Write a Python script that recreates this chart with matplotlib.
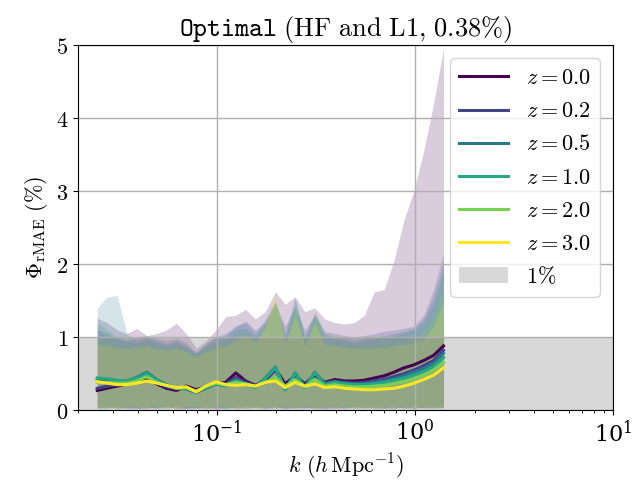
import matplotlib
matplotlib.use("Agg")
import matplotlib.pyplot as plt
import numpy as np
from matplotlib.ticker import FormatStrFormatter

plt.rcParams["mathtext.fontset"] = "cm"
plt.rcParams["font.family"] = "serif"
plt.rcParams["font.serif"] = ["DejaVu Serif"]
plt.rcParams["font.size"] = 16

# wavenumbers (h/Mpc)
k = [0.0250, 0.0280, 0.0315, 0.0353, 0.0396, 0.0444, 0.0498, 0.0559, 0.0627,
     0.0703, 0.0789, 0.0885, 0.0993, 0.111, 0.125, 0.140, 0.157, 0.176,
     0.198, 0.222, 0.249, 0.279, 0.313, 0.351, 0.394, 0.442, 0.496, 0.556,
     0.624, 0.700, 0.785, 0.881, 0.988, 1.108, 1.243, 1.395]

redshifts = [0.0, 0.2, 0.5, 1.0, 2.0, 3.0]

# median relative MAE per redshift (%)
med_z00 = [0.27, 0.30, 0.33, 0.36, 0.40, 0.44, 0.36, 0.30, 0.27, 0.33, 0.28, 0.32,
           0.36, 0.38, 0.51, 0.40, 0.34, 0.40, 0.56, 0.36, 0.47, 0.36, 0.48, 0.38,
           0.42, 0.40, 0.40, 0.41, 0.44, 0.47, 0.52, 0.58, 0.62, 0.68, 0.75, 0.88]
med_z02 = [0.30, 0.33, 0.35, 0.37, 0.40, 0.46, 0.38, 0.32, 0.29, 0.31, 0.26, 0.31,
           0.36, 0.36, 0.45, 0.38, 0.33, 0.42, 0.55, 0.31, 0.48, 0.33, 0.50, 0.37,
           0.40, 0.38, 0.37, 0.38, 0.40, 0.42, 0.46, 0.50, 0.55, 0.61, 0.68, 0.82]
med_z05 = [0.42, 0.42, 0.40, 0.40, 0.45, 0.52, 0.42, 0.35, 0.30, 0.29, 0.24, 0.30,
           0.36, 0.34, 0.42, 0.36, 0.32, 0.44, 0.59, 0.28, 0.51, 0.31, 0.52, 0.36,
           0.39, 0.37, 0.36, 0.36, 0.38, 0.40, 0.43, 0.47, 0.52, 0.57, 0.64, 0.78]
med_z10 = [0.44, 0.43, 0.41, 0.40, 0.44, 0.50, 0.41, 0.34, 0.30, 0.30, 0.25, 0.31,
           0.36, 0.33, 0.40, 0.36, 0.31, 0.43, 0.58, 0.28, 0.50, 0.31, 0.51, 0.35,
           0.38, 0.36, 0.35, 0.35, 0.36, 0.38, 0.41, 0.44, 0.48, 0.53, 0.60, 0.72]
med_z20 = [0.38, 0.38, 0.37, 0.37, 0.40, 0.46, 0.38, 0.34, 0.30, 0.31, 0.26, 0.33,
           0.37, 0.35, 0.38, 0.36, 0.33, 0.38, 0.45, 0.33, 0.42, 0.32, 0.42, 0.33,
           0.35, 0.33, 0.32, 0.32, 0.33, 0.34, 0.36, 0.39, 0.43, 0.48, 0.55, 0.65]
med_z30 = [0.39, 0.37, 0.35, 0.35, 0.37, 0.40, 0.37, 0.34, 0.31, 0.32, 0.25, 0.33,
           0.39, 0.35, 0.34, 0.35, 0.33, 0.38, 0.40, 0.31, 0.38, 0.33, 0.36, 0.31,
           0.32, 0.30, 0.29, 0.28, 0.28, 0.29, 0.30, 0.33, 0.37, 0.42, 0.48, 0.58]

# upper edge of the spread
hi_z00 = [1.26, 1.20, 1.10, 1.05, 1.12, 1.02, 1.05, 1.10, 1.19, 1.05, 0.85, 0.95,
          1.10, 1.28, 1.30, 1.38, 1.25, 1.35, 1.62, 1.45, 1.55, 1.35, 1.40, 1.25,
          1.20, 1.18, 1.20, 1.30, 1.62, 1.65, 2.05, 2.60, 3.00, 3.55, 4.20, 4.95]
hi_z02 = [1.10, 1.05, 0.98, 0.95, 1.00, 1.02, 0.98, 0.95, 0.98, 0.92, 0.78, 0.90,
          1.00, 1.05, 1.15, 1.22, 1.10, 1.20, 1.45, 1.15, 1.40, 1.10, 1.30, 1.08,
          1.05, 1.02, 1.00, 1.02, 1.05, 1.08, 1.10, 1.12, 1.15, 1.30, 1.65, 2.15]
hi_z05 = [1.40, 1.55, 1.57, 1.05, 0.95, 1.00, 0.95, 0.90, 0.95, 0.88, 0.80, 0.92,
          1.00, 1.02, 1.15, 1.20, 1.05, 1.25, 1.50, 1.05, 1.55, 1.00, 1.35, 1.05,
          1.00, 0.98, 0.95, 0.98, 1.00, 1.02, 1.05, 1.08, 1.12, 1.25, 1.55, 2.00]
hi_z10 = [1.20, 1.10, 1.00, 0.95, 0.92, 0.98, 0.92, 0.88, 0.92, 0.85, 0.78, 0.88,
          0.95, 0.98, 1.10, 1.12, 1.00, 1.20, 1.48, 1.00, 1.50, 0.98, 1.30, 1.00,
          0.98, 0.95, 0.92, 0.95, 0.98, 1.00, 1.02, 1.05, 1.10, 1.20, 1.45, 1.90]
hi_z20 = [0.95, 0.92, 0.88, 0.86, 0.88, 0.90, 0.86, 0.84, 0.85, 0.82, 0.75, 0.82,
          0.88, 0.90, 0.98, 1.05, 0.95, 1.10, 1.50, 0.92, 1.42, 0.90, 1.33, 0.92,
          0.90, 0.88, 0.86, 0.88, 0.88, 0.90, 0.92, 0.95, 0.98, 1.05, 1.30, 1.70]
hi_z30 = [0.90, 0.88, 0.85, 0.84, 0.86, 0.88, 0.84, 0.82, 0.84, 0.80, 0.72, 0.80,
          0.85, 0.88, 0.95, 1.02, 0.92, 1.15, 1.60, 0.90, 1.30, 0.88, 1.20, 0.90,
          0.88, 0.86, 0.84, 0.85, 0.85, 0.86, 0.88, 0.90, 0.92, 0.98, 1.15, 1.50]

# lower edge of the spread
lo_z00 = [0.04, 0.03, 0.05, 0.03, 0.02, 0.04, 0.03, 0.05, 0.02, 0.03, 0.04, 0.02,
          0.03, 0.05, 0.03, 0.02, 0.04, 0.03, 0.05, 0.02, 0.03, 0.04, 0.03, 0.02,
          0.04, 0.03, 0.05, 0.03, 0.04, 0.02, 0.03, 0.04, 0.05, 0.03, 0.04, 0.05]
lo_z02 = [0.03, 0.05, 0.02, 0.04, 0.03, 0.02, 0.05, 0.03, 0.04, 0.02, 0.03, 0.05,
          0.02, 0.03, 0.04, 0.06, 0.03, 0.02, 0.04, 0.03, 0.05, 0.02, 0.04, 0.03,
          0.02, 0.05, 0.03, 0.04, 0.02, 0.03, 0.05, 0.03, 0.02, 0.04, 0.03, 0.04]
lo_z05 = [0.06, 0.04, 0.03, 0.02, 0.04, 0.05, 0.02, 0.03, 0.06, 0.04, 0.02, 0.03,
          0.05, 0.02, 0.03, 0.04, 0.06, 0.03, 0.02, 0.05, 0.03, 0.04, 0.02, 0.05,
          0.03, 0.02, 0.04, 0.06, 0.03, 0.04, 0.02, 0.05, 0.03, 0.04, 0.06, 0.03]
lo_z10 = [0.02, 0.03, 0.04, 0.05, 0.03, 0.02, 0.04, 0.06, 0.03, 0.02, 0.05, 0.04,
          0.03, 0.02, 0.05, 0.03, 0.04, 0.06, 0.03, 0.02, 0.04, 0.05, 0.03, 0.02,
          0.06, 0.04, 0.02, 0.03, 0.05, 0.06, 0.04, 0.02, 0.05, 0.03, 0.02, 0.04]
lo_z20 = [0.03, 0.02, 0.05, 0.03, 0.06, 0.04, 0.03, 0.02, 0.05, 0.06, 0.03, 0.04,
          0.06, 0.04, 0.02, 0.05, 0.03, 0.04, 0.06, 0.05, 0.02, 0.03, 0.06, 0.04,
          0.05, 0.03, 0.06, 0.02, 0.04, 0.03, 0.06, 0.04, 0.03, 0.05, 0.04, 0.02]
lo_z30 = [0.05, 0.04, 0.02, 0.06, 0.04, 0.03, 0.06, 0.04, 0.03, 0.05, 0.06, 0.02,
          0.04, 0.06, 0.04, 0.03, 0.02, 0.05, 0.03, 0.06, 0.04, 0.06, 0.02, 0.05,
          0.03, 0.06, 0.02, 0.05, 0.03, 0.05, 0.03, 0.06, 0.04, 0.02, 0.05, 0.03]

medians = [med_z00, med_z02, med_z05, med_z10, med_z20, med_z30]
uppers = [hi_z00, hi_z02, hi_z05, hi_z10, hi_z20, hi_z30]
lowers = [lo_z00, lo_z02, lo_z05, lo_z10, lo_z20, lo_z30]

colors = plt.cm.viridis(np.linspace(0, 1, len(redshifts)))

fig = plt.figure(figsize=(6.42, 4.82), dpi=100)
ax = fig.add_axes([0.1215, 0.149, 0.8335, 0.7576])

for z, m, lo, hi, c in zip(redshifts, medians, lowers, uppers, colors):
    ax.plot(k, m, color=c, lw=2.2, label=r"$z = %.1f$" % z, zorder=3)
    ax.fill_between(k, lo, hi, color=c, alpha=0.2, lw=0)

ax.axhspan(0, 1, color="gray", alpha=0.3, lw=0, label=r"$1\%$")

ax.set_xscale("log")
ax.set_xlim(0.02, 10)
ax.set_ylim(0, 5)
ax.yaxis.set_major_formatter(FormatStrFormatter(r"$%d$"))
ax.grid(True, which="major", color="#b0b0b0", lw=1)

ax.set_xlabel(r"$k\ (h\,\mathrm{Mpc}^{-1})$")
ax.set_ylabel(r"$\Phi_{\rm rMAE}\ (\%)$")
ax.set_title(r"$\mathtt{Optimal}\ \mathrm{(HF\ and\ L1{,}\ 0.38\%)}$", fontsize=19)
ax.legend(loc="upper right", fontsize=16, handlelength=2.2, labelspacing=0.5,
          borderaxespad=0.6)

fig.savefig("out.png", dpi=100)
